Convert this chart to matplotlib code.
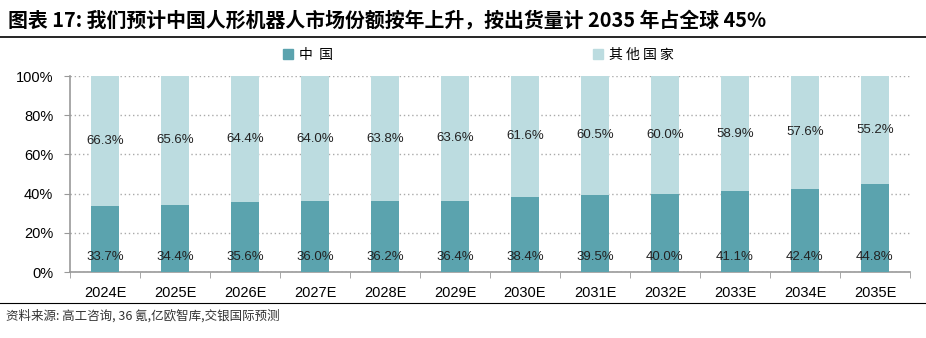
import numpy as np
import matplotlib
matplotlib.use("Agg")
import matplotlib.pyplot as plt
from matplotlib.lines import Line2D

plt.rcParams["font.family"] = ["Noto Sans CJK SC", "DejaVu Sans"]

years = ["2024E", "2025E", "2026E", "2027E", "2028E", "2029E",
         "2030E", "2031E", "2032E", "2033E", "2034E", "2035E"]
china = [33.7, 34.4, 35.6, 36.0, 36.2, 36.4, 38.4, 39.5, 40.0, 41.1, 42.4, 44.8]
others = [66.3, 65.6, 64.4, 64.0, 63.8, 63.6, 61.6, 60.5, 60.0, 58.9, 57.6, 55.2]

title = "图表 17: 我们预计中国人形机器人市场份额按年上升，按出货量计 2035 年占全球 45%"
source = "资料来源: 高工咨询, 36 氪,亿欧智库,交银国际预测"

c_china = "#5ba3ae"
c_other = "#bcdce0"
num_font = "Liberation Sans"

fig = plt.figure(figsize=(9.26, 3.38), dpi=100)
ax = fig.add_axes([70 / 926, 1 - 272 / 338, 840 / 926, 196 / 338])

x = np.arange(len(years))
w = 0.39
ax.bar(x, china, w, color=c_china, label="中国", zorder=3)
ax.bar(x, others, w, bottom=china, color=c_other, label="其他国家", zorder=3)

for i in range(len(years)):
    ax.text(x[i], 7.5, f"{china[i]:.1f}%", ha="center", va="center",
            fontsize=9.5, color="#222222", family=num_font, zorder=4)
    ax.text(x[i], china[i] + others[i] / 2, f"{others[i]:.1f}%", ha="center",
            va="center", fontsize=9.5, color="#222222", family=num_font, zorder=4)

ax.set_xlim(-0.5, len(years) - 0.5)
ax.set_ylim(0, 100)
ax.set_yticks(np.arange(0, 101, 20))
ax.set_yticklabels([f"{v}%" for v in range(0, 101, 20)], family=num_font, fontsize=10.5)
ax.set_xticks(x)
ax.set_xticklabels(years, family=num_font, fontsize=10.5)
ax.tick_params(axis="x", length=0, pad=10)
ax.set_xticks(np.arange(-0.5, len(years), 1), minor=True)
ax.tick_params(axis="x", which="minor", length=4, color="#999999", direction="out")
ax.tick_params(axis="y", length=4, color="#999999", pad=8)

ax.yaxis.grid(True, linestyle=(0, (1, 2)), color="#aaaaaa", linewidth=1, zorder=0)
for s in ["top", "right"]:
    ax.spines[s].set_visible(False)
for s in ["left", "bottom"]:
    ax.spines[s].set_color("#999999")
    ax.spines[s].set_linewidth(1.2)

handles = [Line2D([], [], marker="s", linestyle="none", markersize=7, color=c_china),
           Line2D([], [], marker="s", linestyle="none", markersize=7, color=c_other)]
fig.legend(handles, ["中  国", "其 他 国 家"], loc="center", ncol=2,
           bbox_to_anchor=(477 / 926, 1 - 55 / 338), frameon=False,
           fontsize=10, columnspacing=18.5, handletextpad=0.2, handlelength=1.2)

fig.text(8 / 926, 1 - 20 / 338, title, fontsize=14.3, fontweight="bold",
         ha="left", va="center", color="black")
fig.add_artist(Line2D([0, 1], [1 - 37 / 338, 1 - 37 / 338], color="black", linewidth=1.2))
fig.add_artist(Line2D([0, 1], [1 - 303 / 338, 1 - 303 / 338], color="black", linewidth=0.8))
fig.text(6 / 926, 1 - 316 / 338, source, fontsize=9, style="italic",
         ha="left", va="center", color="#333333")

fig.savefig("out.png", dpi=100)
